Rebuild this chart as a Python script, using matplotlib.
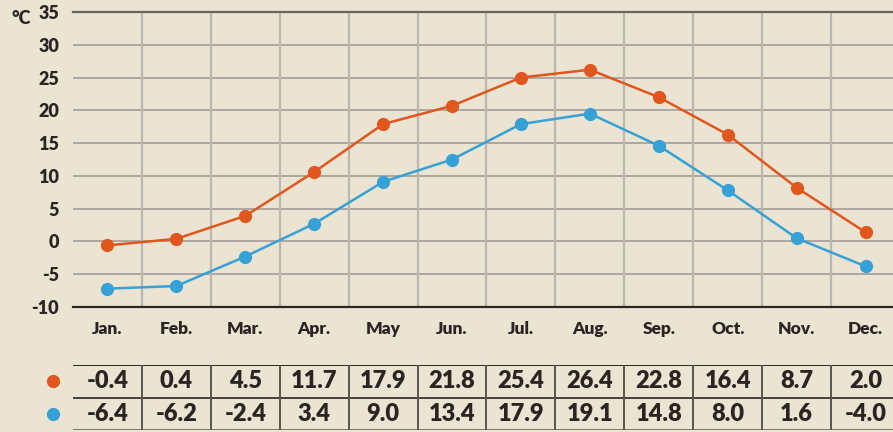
import matplotlib
matplotlib.use("Agg")
import matplotlib.pyplot as plt

# monthly temperatures, table values
months = ["Jan.", "Feb.", "Mar.", "Apr.", "May", "Jun.",
          "Jul.", "Aug.", "Sep.", "Oct.", "Nov.", "Dec."]
high_table = ["-0.4", "0.4", "4.5", "11.7", "17.9", "21.8",
              "25.4", "26.4", "22.8", "16.4", "8.7", "2.0"]
low_table = ["-6.4", "-6.2", "-2.4", "3.4", "9.0", "13.4",
             "17.9", "19.1", "14.8", "8.0", "1.6", "-4.0"]

# where the dots sit on the chart
high_plot = [-0.6, 0.4, 3.9, 10.6, 17.9, 20.7, 25.0, 26.2, 22.0, 16.3, 8.2, 1.4]
low_plot = [-7.2, -6.8, -2.3, 2.7, 9.1, 12.5, 17.9, 19.5, 14.6, 7.8, 0.5, -3.8]
yticks = [-10, -5, 0, 5, 10, 15, 20, 25, 30, 35]

bg = "#ebe4d3"
orange = "#e0561d"
blue = "#36a1d6"
ink = "#2b2521"

plt.rcParams['font.family'] = ['Lato', 'DejaVu Sans']
plt.rcParams['font.weight'] = 'heavy'

W, H = 893, 432
fig = plt.figure(figsize=(W / 100, H / 100), dpi=100, facecolor=bg)

# main chart
ax = fig.add_axes([73 / W, (H - 307) / H, (900 - 73) / W, (307 - 12) / H])
ax.set_facecolor(bg)
ax.set_xlim(0, 12)
ax.set_ylim(-10, 35)
for y in yticks[1:-1]:
    ax.axhline(y, color="#a19d98", lw=1.2, zorder=1)
for i in range(1, 12):
    ax.axvline(i, color="#bcb6ad", lw=1.6, zorder=1)

xs = [i + 0.5 for i in range(12)]
ax.plot(xs, high_plot, color=orange, lw=1.8, marker="o", ms=8.5, zorder=3)
ax.plot(xs, low_plot, color=blue, lw=1.8, marker="o", ms=8.5, zorder=3)

for s in ["left", "right"]:
    ax.spines[s].set_visible(False)
ax.spines["top"].set_color("#6b645c")
ax.spines["top"].set_linewidth(1.6)
ax.spines["bottom"].set_color(ink)
ax.spines["bottom"].set_linewidth(1.6)

ax.set_yticks(yticks)
ax.set_yticklabels([str(v) for v in yticks])
ax.tick_params(axis="y", length=0, pad=10, labelsize=13, labelcolor=ink)
ax.set_xticks(xs)
ax.set_xticklabels(months)
ax.tick_params(axis="x", length=0, pad=10, labelsize=12.5, labelcolor=ink)
fig.text(11 / W, 1 - 19 / H, "°C", fontsize=13, color=ink, va="center", ha="left")

# data table underneath
tb = fig.add_axes([73 / W, (H - 430) / H, (900 - 73) / W, (430 - 365) / H])
tb.set_facecolor(bg)
tb.set_xlim(0, 12)
tb.set_ylim(0, 2)
tb.axis("off")
tb.axhline(2, color=ink, lw=1.4)
tb.axhline(1, color=ink, lw=1.2)
tb.axhline(0, color="#7b746c", lw=1.4)
for i in range(1, 12):
    tb.axvline(i, color="#5b544d", lw=1.4)
for i in range(12):
    tb.text(i + 0.5, 1.5, high_table[i], ha="center", va="center",
            fontsize=17, color=ink)
    tb.text(i + 0.5, 0.5, low_table[i], ha="center", va="center",
            fontsize=17, color=ink)
tb.plot([-0.29], [1.5], "o", color=orange, ms=8.5, clip_on=False)
tb.plot([-0.29], [0.5], "o", color=blue, ms=8.5, clip_on=False)

fig.savefig("out.png", dpi=100, facecolor=bg)
